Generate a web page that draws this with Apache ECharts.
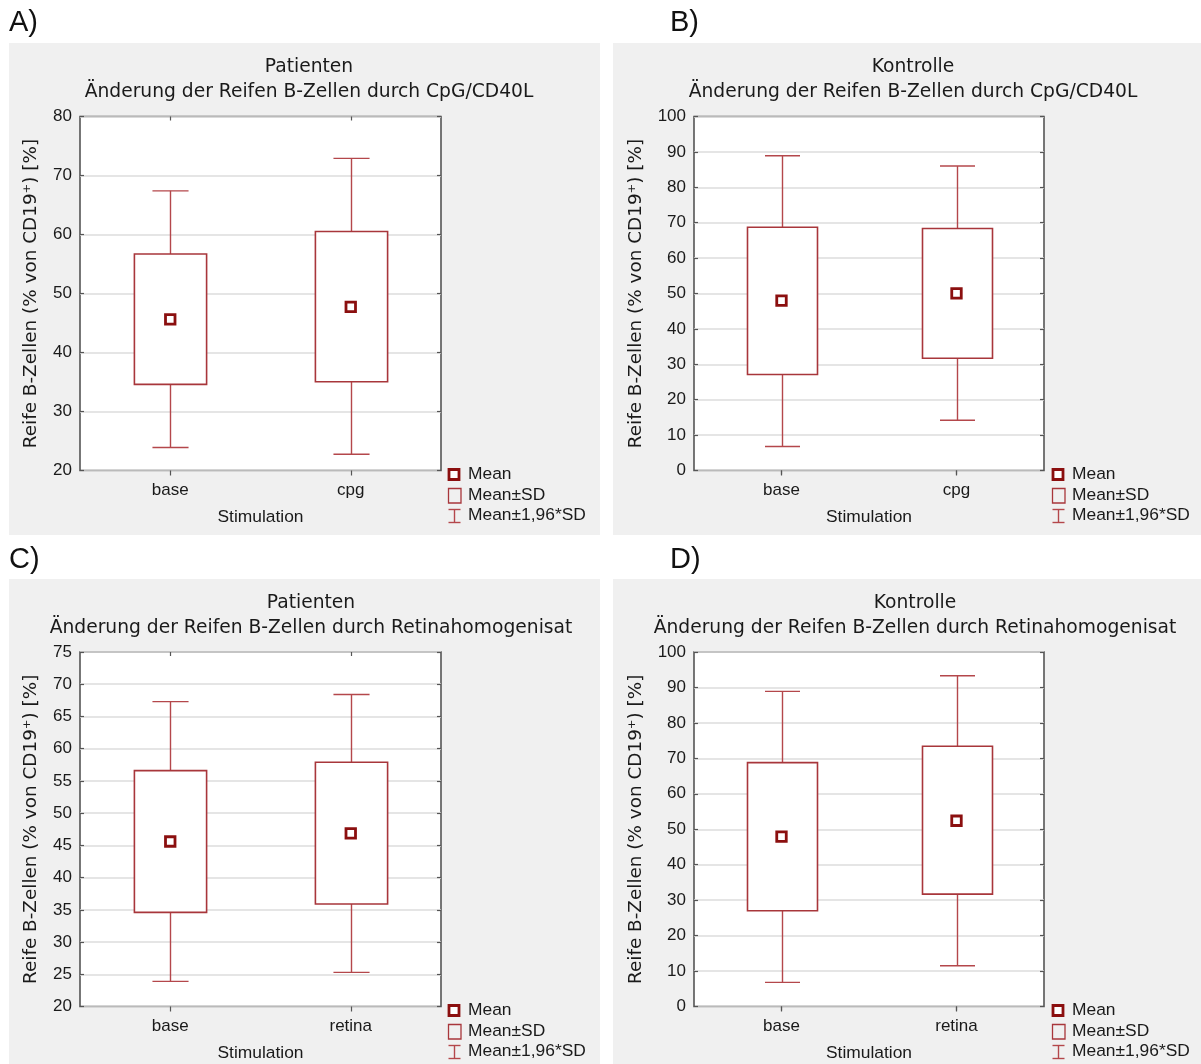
<!DOCTYPE html>
<html>
<head>
<meta charset="utf-8">
<script src="https://cdn.jsdelivr.net/npm/echarts@6/dist/echarts.min.js"></script>
<style>
html,body{margin:0;padding:0;background:#fff;}
#chart{width:1201px;height:1064px;}
</style>
</head>
<body>
<div id="chart"></div>
<script>
// ---- Data ----
const catsCpg = ['base', 'cpg'];
const catsRetina = ['base', 'retina'];

// Panel A: Patienten, CpG/CD40L
const A_mean   = [45.6, 47.75];
const A_sdLow  = [34.6, 35.05];
const A_sdHigh = [56.7, 60.5];
const A_ciLow  = [23.9, 22.75];
const A_ciHigh = [67.4, 72.9];

// Panel B: Kontrolle, CpG/CD40L
const B_mean   = [48.0, 50.05];
const B_sdLow  = [27.1, 31.7];
const B_sdHigh = [68.7, 68.35];
const B_ciLow  = [6.8, 14.2];
const B_ciHigh = [88.9, 86.0];

// Panel C: Patienten, Retinahomogenisat
const C_mean   = [45.6, 46.85];
const C_sdLow  = [34.6, 35.9];
const C_sdHigh = [56.6, 57.9];
const C_ciLow  = [23.9, 25.3];
const C_ciHigh = [67.3, 68.4];

// Panel D: Kontrolle, Retinahomogenisat
const D_mean   = [47.9, 52.4];
const D_sdLow  = [27.0, 31.7];
const D_sdHigh = [68.8, 73.4];
const D_ciLow  = [6.8, 11.5];
const D_ciHigh = [88.9, 93.3];

// axis ranges
const yA = {min: 20, max: 80, interval: 10};
const yB = {min: 0, max: 100, interval: 10};
const yC = {min: 20, max: 75, interval: 5};
const yD = {min: 0, max: 100, interval: 10};

const titlesLine1 = ['Patienten', 'Kontrolle', 'Patienten', 'Kontrolle'];
const titlesLine2 = [
  'Änderung der Reifen B-Zellen durch CpG/CD40L',
  'Änderung der Reifen B-Zellen durch CpG/CD40L',
  'Änderung der Reifen B-Zellen durch Retinahomogenisat',
  'Änderung der Reifen B-Zellen durch Retinahomogenisat'
];
const panelLabels = ['A)', 'B)', 'C)', 'D)'];
const yName = 'Reife B-Zellen (% von CD19⁺) [%]';
const xName = 'Stimulation';
const legendLabels = ['Mean', 'Mean±SD', 'Mean±1,96*SD'];

// ---- Styling ----
const BOX = '#a8363b';
const WH = '#b4474b';
const MEAN = '#8b0f0f';
const AX = '#555555';
const TXT = '#1a1a1a';
const FT = 'Liberation Sans, Arial, sans-serif';
const FT2 = 'DejaVu Sans, sans-serif';

const panels = [
  {cats: catsCpg, mean: A_mean, sl: A_sdLow, sh: A_sdHigh, cl: A_ciLow, ch: A_ciHigh, y: yA,
   grid: {left: 80, top: 116.5, width: 361, height: 354}, yGap: 40, xGap: 38,
   bg: [9, 43, 591, 492], tx: 309, ty: 67, lab: [9, 23], leg: [0, 0]},
  {cats: catsCpg, mean: B_mean, sl: B_sdLow, sh: B_sdHigh, cl: B_ciLow, ch: B_ciHigh, y: yB,
   grid: {left: 694, top: 116.5, width: 350, height: 354}, yGap: 49, xGap: 38,
   bg: [613, 43, 588, 492], tx: 913, ty: 67, lab: [670, 23], leg: [604, 0]},
  {cats: catsRetina, mean: C_mean, sl: C_sdLow, sh: C_sdHigh, cl: C_ciLow, ch: C_ciHigh, y: yC,
   grid: {left: 80, top: 652, width: 361, height: 354.5}, yGap: 40, xGap: 38,
   bg: [9, 579, 591, 485], tx: 311, ty: 603.5, lab: [9, 560], leg: [0, 536]},
  {cats: catsRetina, mean: D_mean, sl: D_sdLow, sh: D_sdHigh, cl: D_ciLow, ch: D_ciHigh, y: yD,
   grid: {left: 694, top: 652, width: 350, height: 354.5}, yGap: 49, xGap: 38,
   bg: [613, 579, 588, 485], tx: 915, ty: 603.5, lab: [670, 560], leg: [604, 536]}
];

function renderBox(params, api) {
  const c = api.value(0);
  const lo = api.coord([c, api.value(1)]);
  const sl = api.coord([c, api.value(2)]);
  const sh = api.coord([c, api.value(3)]);
  const hi = api.coord([c, api.value(4)]);
  const band = api.size([1, 0])[0];
  const bw = band * 0.4, cw = band * 0.2;
  const x = Math.round(lo[0]) + 0.5;
  const ws = {stroke: WH, lineWidth: 1.4};
  return {
    type: 'group',
    children: [
      {type: 'line', shape: {x1: x, y1: hi[1], x2: x, y2: lo[1]}, style: ws},
      {type: 'line', shape: {x1: x - cw / 2, y1: hi[1], x2: x + cw / 2, y2: hi[1]}, style: ws},
      {type: 'line', shape: {x1: x - cw / 2, y1: lo[1], x2: x + cw / 2, y2: lo[1]}, style: ws},
      {type: 'rect', shape: {x: x - bw / 2, y: sh[1], width: bw, height: sl[1] - sh[1]},
       style: {fill: '#ffffff', stroke: BOX, lineWidth: 1.6}}
    ]
  };
}

const grids = [], xAxes = [], yAxes = [], series = [], graphics = [];

panels.forEach((p, i) => {
  graphics.push({type: 'rect', z: -10, shape: {x: p.bg[0], y: p.bg[1], width: p.bg[2], height: p.bg[3]},
    style: {fill: '#f0f0f0'}});
  graphics.push({type: 'text', x: p.lab[0], y: p.lab[1],
    style: {text: panelLabels[i], font: '29px ' + FT, fill: '#111', textAlign: 'left', textVerticalAlign: 'middle', align: 'left', verticalAlign: 'middle'}});
  graphics.push({type: 'text', x: p.tx, y: p.ty,
    style: {text: titlesLine1[i], font: '18.7px ' + FT2, fill: TXT, textAlign: 'center', textVerticalAlign: 'middle', align: 'center', verticalAlign: 'middle'}});
  graphics.push({type: 'text', x: p.tx, y: p.ty + 25,
    style: {text: titlesLine2[i], font: '18.7px ' + FT2, fill: TXT, textAlign: 'center', textVerticalAlign: 'middle', align: 'center', verticalAlign: 'middle'}});
  const lx = p.leg[0], ly = p.leg[1];
  graphics.push({type: 'rect', shape: {x: 449, y: 469.5 + ly, width: 10, height: 10},
    style: {fill: '#fff', stroke: MEAN, lineWidth: 2.8}, x: lx});
  graphics.push({type: 'rect', shape: {x: 448.5, y: 488.5 + ly, width: 12.5, height: 14.5},
    style: {fill: 'none', stroke: BOX, lineWidth: 1.3}, x: lx});
  graphics.push({type: 'line', shape: {x1: 454.5, y1: 509.5 + ly, x2: 454.5, y2: 522.5 + ly},
    style: {stroke: WH, lineWidth: 1.4}, x: lx});
  graphics.push({type: 'line', shape: {x1: 448.5, y1: 509.5 + ly, x2: 460.5, y2: 509.5 + ly},
    style: {stroke: WH, lineWidth: 1.4}, x: lx});
  graphics.push({type: 'line', shape: {x1: 448.5, y1: 522.5 + ly, x2: 460.5, y2: 522.5 + ly},
    style: {stroke: WH, lineWidth: 1.4}, x: lx});
  const ry = [474.5, 495, 515.5];
  legendLabels.forEach((t, k) => {
    graphics.push({type: 'text', x: 468 + lx, y: ry[k] + ly,
      style: {text: t, font: '17.4px ' + FT, fill: TXT, textAlign: 'left', textVerticalAlign: 'middle', align: 'left', verticalAlign: 'middle'}});
  });

  grids.push(Object.assign({show: true, backgroundColor: '#ffffff', borderColor: AX, borderWidth: 1.6, containLabel: false}, p.grid));

  xAxes.push({type: 'category', gridIndex: i, data: p.cats, position: 'bottom',
    boundaryGap: true,
    axisLine: {show: false},
    axisTick: {show: true, alignWithLabel: true, inside: false, length: 5, lineStyle: {color: AX, width: 1.2}},
    axisLabel: {color: TXT, fontFamily: FT, fontSize: 17, margin: 11},
    splitLine: {show: false},
    name: xName, nameLocation: 'middle', nameGap: p.xGap,
    nameTextStyle: {color: TXT, fontFamily: FT, fontSize: 17.4}
  });
  xAxes.push({type: 'category', gridIndex: i, data: p.cats, position: 'top',
    boundaryGap: true,
    axisLine: {show: false},
    axisTick: {show: true, alignWithLabel: true, inside: true, length: 4, lineStyle: {color: AX, width: 1.2}},
    axisLabel: {show: false}, splitLine: {show: false}
  });
  yAxes.push({type: 'value', gridIndex: i, position: 'left',
    min: p.y.min, max: p.y.max, interval: p.y.interval,
    axisLine: {show: false},
    axisTick: {show: true, inside: true, length: 4, lineStyle: {color: AX, width: 1.2}},
    axisLabel: {color: TXT, fontFamily: FT, fontSize: 17, margin: 8},
    splitLine: {show: true, lineStyle: {color: '#dcdcdc', width: 1.5}},
    name: yName, nameLocation: 'middle', nameGap: p.yGap,
    nameTextStyle: {color: TXT, fontFamily: FT2, fontSize: 18.4}
  });
  yAxes.push({type: 'value', gridIndex: i, position: 'right',
    min: p.y.min, max: p.y.max, interval: p.y.interval,
    axisLine: {show: false},
    axisTick: {show: true, inside: true, length: 4, lineStyle: {color: AX, width: 1.2}},
    axisLabel: {show: false}, splitLine: {show: false}
  });

  const boxData = p.cats.map((c, k) => [k, p.cl[k], p.sl[k], p.sh[k], p.ch[k]]);
  series.push({type: 'custom', xAxisIndex: 2 * i, yAxisIndex: 2 * i,
    renderItem: renderBox, data: boxData, encode: {x: 0, y: [1, 2, 3, 4]}, z: 3, silent: true});
  series.push({type: 'scatter', xAxisIndex: 2 * i, yAxisIndex: 2 * i,
    data: p.mean, symbol: 'rect', symbolSize: 9.5,
    itemStyle: {color: '#ffffff', borderColor: MEAN, borderWidth: 2.8, opacity: 1}, z: 5, silent: true});
});

const chart = echarts.init(document.getElementById('chart'), null, {renderer: 'canvas'});
chart.setOption({
  backgroundColor: '#ffffff',
  animation: false,
  grid: grids,
  xAxis: xAxes,
  yAxis: yAxes,
  series: series,
  graphic: {elements: graphics}
});
</script>
</body>
</html>
